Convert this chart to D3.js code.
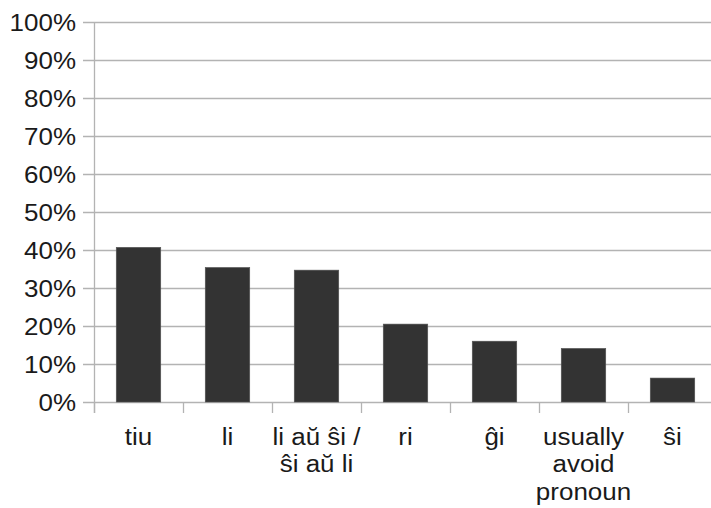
<!DOCTYPE html>
<html>
<head>
<meta charset="utf-8">
<script src="https://cdn.jsdelivr.net/npm/d3@7"></script>
<style>
  html, body { margin: 0; padding: 0; background: #fff; }
  svg { display: block; }
  text { font-family: "Liberation Sans", Arial, sans-serif; fill: #1a1a1a; }
</style>
</head>
<body>
<svg id="chart" width="711" height="508"></svg>
<script>
const categories = ["tiu", "li", "li aŭ ŝi / ŝi aŭ li", "ri", "ĝi", "usually avoid pronoun", "ŝi"];
const categoryLines = [["tiu"], ["li"], ["li aŭ ŝi /", "ŝi aŭ li"], ["ri"], ["ĝi"], ["usually", "avoid", "pronoun"], ["ŝi"]];
const values = [40.7, 35.4, 34.7, 20.5, 16.0, 14.1, 6.3];
const yTicks = [0, 10, 20, 30, 40, 50, 60, 70, 80, 90, 100];
const yTickLabels = ["0%", "10%", "20%", "30%", "40%", "50%", "60%", "70%", "80%", "90%", "100%"];

(function () {
const svg = d3.select("#chart");
const plotLeft = 94, plotRight = 717, plotTop = 22, plotBottom = 402;
const fontSize = 23, stretch = 1.13;
const gridColor = "#b3b3b3";

const x = d3.scaleBand().domain(categories).range([plotLeft, plotRight]).paddingInner(0.5).paddingOuter(0.25);
const y = d3.scaleLinear().domain([0, 100]).range([plotBottom, plotTop]);

// gridlines + y tick marks
svg.append("g").selectAll("line").data(yTicks).join("line")
  .attr("x1", plotLeft - 11).attr("x2", 711)
  .attr("y1", d => Math.round(y(d)) + 0.5).attr("y2", d => Math.round(y(d)) + 0.5)
  .attr("stroke", gridColor).attr("stroke-width", 1.3);

// y axis line
svg.append("line")
  .attr("x1", plotLeft + 0.5).attr("x2", plotLeft + 0.5)
  .attr("y1", plotTop).attr("y2", plotBottom + 11)
  .attr("stroke", gridColor).attr("stroke-width", 1.3);

// x tick marks at band boundaries
const step = x.step();
const start = x(categories[0]) - x.bandwidth() / 2;
const boundaries = d3.range(categories.length + 1).map(i => start + i * step);
svg.append("g").selectAll("line").data(boundaries).join("line")
  .attr("x1", d => Math.round(d) + 0.5).attr("x2", d => Math.round(d) + 0.5)
  .attr("y1", plotBottom).attr("y2", plotBottom + 11)
  .attr("stroke", gridColor).attr("stroke-width", 1.3);

// bars
svg.append("g").selectAll("rect").data(categories).join("rect")
  .attr("x", d => x(d))
  .attr("width", x.bandwidth())
  .attr("y", (d, i) => y(values[i]))
  .attr("height", (d, i) => y(0) - y(values[i]))
  .attr("fill", "#333333")
  .attr("stroke", "#555").attr("stroke-width", 0.6);

// y labels
svg.append("g").selectAll("text").data(yTicks).join("text")
  .attr("transform", d => `translate(76,${y(d) + 8.5}) scale(${stretch},1)`)
  .attr("text-anchor", "end")
  .attr("font-size", fontSize)
  .text((d, i) => yTickLabels[i]);

// x labels
const xl = svg.append("g").selectAll("text").data(categories).join("text")
  .attr("transform", d => `translate(${x(d) + x.bandwidth() / 2},445) scale(${stretch},1)`)
  .attr("text-anchor", "middle")
  .attr("font-size", fontSize);
xl.each(function (d, i) {
  const t = d3.select(this);
  categoryLines[i].forEach((ln, j) => {
    t.append("tspan").attr("x", 0).attr("y", j * 27.5).text(ln);
  });
});
})();
</script>
</body>
</html>
